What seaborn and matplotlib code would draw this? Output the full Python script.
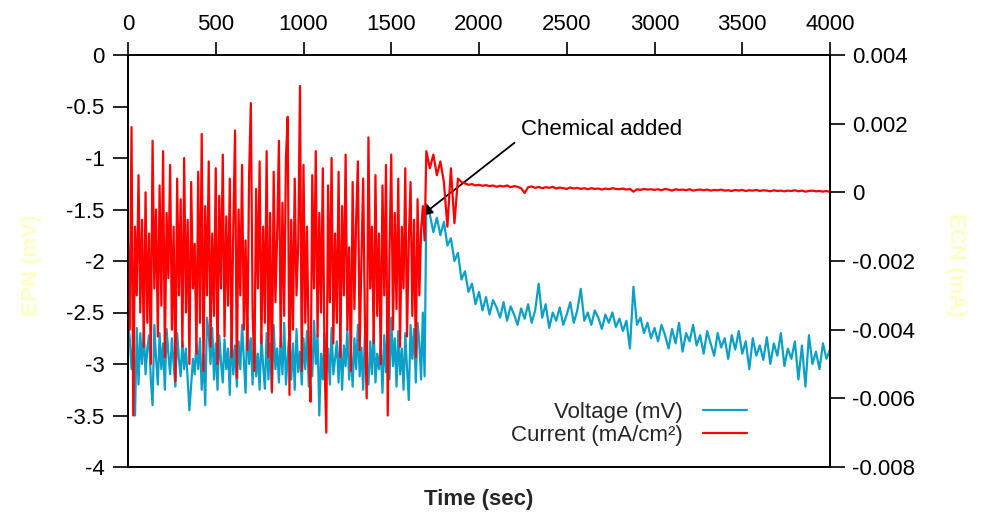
import numpy as np
import pandas as pd
import matplotlib
matplotlib.use("Agg")
import matplotlib.pyplot as plt
from matplotlib.lines import Line2D
from matplotlib.ticker import FuncFormatter
import seaborn as sns

# ---------------- data ----------------
# Voltage (mV), every 10 s from 0 to 1690 s (before the chemical was added)
volt_pre = [
    -2.60, -2.75, -3.05, -2.80, -3.50, -2.65, -3.20, -2.70, -3.00, -2.68,
    -3.10, -2.85, -2.72, -3.15, -3.40, -2.62, -2.95, -3.20, -2.70, -3.05,
    -2.80, -3.25, -2.66, -2.90, -3.10, -2.75, -3.00, -3.22, -2.70, -2.95,
    -3.12, -2.78, -3.05, -2.85, -3.15, -3.45, -3.20, -2.95, -3.10, -2.80,
    -3.05, -2.75, -3.25, -2.90, -3.40, -2.55, -2.70, -3.00, -2.65, -3.15,
    -2.80, -3.25, -2.72, -2.98, -3.18, -2.76, -3.05, -2.85, -3.30, -2.68,
    -3.10, -2.82, -3.22, -2.78, -3.05, -2.62, -2.95, -3.28, -2.55, -3.00,
    -2.75, -3.20, -2.68, -3.12, -2.90, -3.25, -2.72, -3.02, -3.24, -2.70,
    -3.15, -2.80, -3.28, -2.62, -3.05, -2.85, -3.18, -2.74, -3.10, -2.60,
    -3.20, -2.92, -2.70, -3.15, -2.80, -3.25, -2.66, -3.08, -2.88, -3.20,
    -2.75, -3.05, -2.68, -3.22, -2.82, -3.12, -2.58, -3.00, -2.72, -3.50,
    -2.90, -3.15, -2.70, -3.05, -2.85, -3.20, -2.65, -3.10, -2.95, -2.78,
    -3.18, -2.72, -3.25, -2.82, -3.02, -2.66, -3.15, -2.88, -3.22, -2.75,
    -3.05, -2.62, -3.12, -2.84, -3.25, -2.70, -3.00, -3.20, -2.78, -3.10,
    -2.68, -3.18, -2.90, -3.05, -2.80, -3.28, -2.72, -3.08, -2.60, -3.15,
    -2.55, -3.02, -2.75, -3.22, -2.68, -3.10, -2.85, -3.25, -2.70, -3.05,
    -3.35, -2.62, -2.95, -2.66, -3.18, -2.60, -2.80, -3.15, -2.50, -3.12,
]
# Voltage (mV), every 20 s from 1700 to 4000 s (after the chemical was added)
volt_post = [
    -1.45, -1.55, -1.72, -1.58, -1.75, -1.62, -1.85, -1.78, -2.00, -1.92,
    -2.18, -2.10, -2.30, -2.22, -2.42, -2.30, -2.48, -2.35, -2.52, -2.38,
    -2.45, -2.55, -2.40, -2.58, -2.44, -2.52, -2.62, -2.46, -2.56, -2.42,
    -2.60, -2.48, -2.22, -2.55, -2.42, -2.65, -2.50, -2.58, -2.45, -2.62,
    -2.52, -2.40, -2.60, -2.48, -2.27, -2.58, -2.50, -2.62, -2.48, -2.55,
    -2.66, -2.52, -2.60, -2.50, -2.64, -2.56, -2.68, -2.58, -2.85, -2.25,
    -2.62, -2.55, -2.70, -2.60, -2.75, -2.65, -2.78, -2.62, -2.72, -2.85,
    -2.66, -2.80, -2.60, -2.88, -2.70, -2.78, -2.62, -2.82, -2.72, -2.90,
    -2.68, -2.80, -2.92, -2.70, -2.84, -2.75, -2.95, -2.72, -2.86, -2.68,
    -2.90, -2.78, -3.05, -2.75, -2.92, -2.82, -2.96, -2.74, -3.00, -2.80,
    -2.92, -2.70, -3.02, -2.85, -2.95, -2.78, -3.15, -2.82, -3.22, -2.72,
    -3.00, -2.88, -3.05, -2.80, -2.95, -2.86,
]
# Current (mA/cm2), every 10 s from 0 to 1690 s
cur_pre = [
    -0.0015, -0.0040, 0.0019, -0.0065, -0.0010, -0.0030, 0.0005, -0.0035, -0.0008, -0.0045,
    0.0000, -0.0038, -0.0012, -0.0050, 0.0015, -0.0028, -0.0005, -0.0042, 0.0002, -0.0033,
    0.0012, -0.0048, -0.0006, -0.0025, 0.0008, -0.0040, -0.0010, -0.0055, 0.0004, -0.0030,
    -0.0002, -0.0045, 0.0010, -0.0035, -0.0008, -0.0050, 0.0003, -0.0028, -0.0015, -0.0047,
    0.0006, -0.0038, 0.0017, -0.0052, -0.0004, -0.0030, 0.0009, -0.0045, -0.0012, -0.0036,
    0.0007, -0.0050, -0.0001, -0.0028, 0.0011, -0.0042, -0.0007, -0.0033, 0.0004, -0.0048,
    -0.0010, 0.0018, -0.0054, -0.0005, -0.0030, 0.0008, -0.0040, -0.0014, -0.0046, 0.0005,
    0.0026, -0.0035, -0.0052, 0.0001, -0.0028, 0.0009, -0.0044, -0.0010, -0.0038, 0.0012,
    -0.0048, -0.0006, -0.0058, 0.0006, -0.0032, -0.0012, 0.0015, -0.0045, -0.0003, -0.0036,
    0.0010, 0.0022, -0.0059, -0.0008, -0.0040, 0.0004, -0.0030, -0.0015, 0.0031, -0.0052,
    0.0008, -0.0038, -0.0010, -0.0046, -0.0061, 0.0005, -0.0028, 0.0012, -0.0042, -0.0006,
    -0.0035, 0.0007, -0.0050, -0.0070, 0.0002, -0.0032, 0.0010, -0.0044, -0.0012, -0.0038,
    0.0006, -0.0048, -0.0004, -0.0030, 0.0011, -0.0040, -0.0016, -0.0052, 0.0003, -0.0034,
    -0.0008, 0.0009, -0.0046, -0.0020, 0.0004, -0.0038, -0.0060, 0.0016, -0.0028, -0.0010,
    -0.0044, 0.0005, -0.0036, -0.0012, -0.0050, 0.0002, -0.0030, 0.0008, -0.0065, -0.0018,
    0.0011, -0.0040, -0.0006, -0.0034, 0.0004, -0.0045, -0.0010, -0.0028, 0.0007, -0.0042,
    -0.0014, 0.0003, -0.0036, -0.0008, -0.0048, -0.0002, -0.0030, -0.0011, -0.0004, -0.0014,
]
# Current (mA/cm2), every 20 s from 1700 to 4000 s
cur_post = [
    0.0012, 0.0007, 0.0011, 0.0005, 0.0009, 0.0003, -0.0010, 0.0007, -0.0009, 0.0004,
    0.00030, 0.00026, 0.00022, 0.00024, 0.00020, 0.00022, 0.00019, 0.00021, 0.00018, 0.00020,
    0.00016, 0.00019, 0.00017, 0.00020, 0.00015, 0.00018, 0.00016, 0.00012, -0.00002, 0.00015,
    0.00017, 0.00013, 0.00016, 0.00012, 0.00015, 0.00013, 0.00016, 0.00011, 0.00014, 0.00012,
    0.00010, 0.00014, 0.00011, 0.00013, 0.00010, 0.00012, 0.00009, 0.00012, 0.00010, 0.00011,
    0.00008, 0.00011, 0.00009, 0.00012, 0.00010, 0.00009, 0.00011, 0.00008, 0.00010, 0.00002,
    0.00009, 0.00007, 0.00010, 0.00008, 0.00009, 0.00007, 0.00009, 0.00006, 0.00010, 0.00008,
    0.00005, 0.00009, 0.00007, 0.00008, 0.00006, 0.00009, 0.00005, 0.00007, 0.00008, 0.00006,
    0.00008, 0.00005, 0.00007, 0.00006, 0.00008, 0.00005, 0.00006, 0.00004, 0.00007, 0.00005,
    0.00007, 0.00004, 0.00006, 0.00005, 0.00007, 0.00004, 0.00006, 0.00005, 0.00003, 0.00006,
    0.00004, 0.00005, 0.00003, 0.00005, 0.00004, 0.00006, 0.00003, 0.00005, 0.00002, 0.00004,
    0.00005, 0.00003, 0.00004, 0.00002, 0.00004, 0.00001,
]

x_ticks = [0, 500, 1000, 1500, 2000, 2500, 3000, 3500, 4000]
left_ticks = [0, -0.5, -1, -1.5, -2, -2.5, -3, -3.5, -4]
right_ticks = [0.004, 0.002, 0, -0.002, -0.004, -0.006, -0.008]

legend_labels = ["Voltage (mV)", "Current (mA/cm\u00b2)"]
annot_text = "Chemical added"
annot_xy = (1672, -1.56)
annot_text_xy = (2240, -0.72)

# ---------------- build tables ----------------
t_pre = np.linspace(0, 1690, len(volt_pre))
t_post = np.linspace(1700, 4000, len(volt_post))
volt_df = pd.DataFrame({"time": np.concatenate([t_pre, t_post]),
                        "value": volt_pre + volt_post})
tc_pre = np.linspace(0, 1690, len(cur_pre))
tc_post = np.linspace(1700, 4000, len(cur_post))
cur_df = pd.DataFrame({"time": np.concatenate([tc_pre, tc_post]),
                       "value": cur_pre + cur_post})

# ---------------- style ----------------
sns.set_theme(style="white")
plt.rcParams["font.family"] = ["Liberation Sans", "DejaVu Sans"]
plt.rcParams["axes.unicode_minus"] = False

BLUE = "#0ca0c8"
RED = "#ff0000"
PALE = "#ffffc4"
FS = 16

fig = plt.figure(figsize=(9.81, 5.13), dpi=100)
ax = fig.add_axes([128 / 981, 1 - 467 / 513, (830 - 128) / 981, (467 - 55) / 513])
ax2 = ax.twinx()

sns.lineplot(data=volt_df, x="time", y="value", ax=ax, color=BLUE, lw=1.6,
             estimator=None, sort=False, legend=False)
sns.lineplot(data=cur_df, x="time", y="value", ax=ax2, color=RED, lw=1.6,
             estimator=None, sort=False, legend=False)

ax.set_xlim(0, 4000)
ax.set_ylim(-4, 0)
ax2.set_ylim(-0.008, 0.004)

fmt = FuncFormatter(lambda v, p: "%g" % v)
ax.set_xticks(x_ticks)
ax.set_yticks(left_ticks)
ax2.set_yticks(right_ticks)
ax.yaxis.set_major_formatter(fmt)
ax2.yaxis.set_major_formatter(fmt)

ax.xaxis.tick_top()
ax.xaxis.set_label_position("bottom")
ax.tick_params(axis="x", which="both", top=True, bottom=False, direction="out",
               length=9.5, width=1.2, pad=5, labelsize=FS, colors="black")
ax.tick_params(axis="y", direction="out", left=True, length=11, width=1.2,
               pad=6, labelsize=FS, colors="black")
ax2.tick_params(axis="y", direction="out", right=True, length=11, width=1.2,
                pad=5, labelsize=FS, colors="black")
for a in (ax, ax2):
    for s in a.spines.values():
        s.set_color("black")
        s.set_linewidth(1.2)
        s.set_visible(True)

ax.set_xlabel("Time (sec)", fontsize=FS, fontweight="bold", labelpad=16)
ax.set_ylabel("EPN (mV)", fontsize=FS, color=PALE, fontweight="bold",
              va="center")
ax.yaxis.set_label_coords(-0.138, 0.49)
ax2.set_ylabel("ECN (mA)", fontsize=FS, color=PALE, fontweight="bold",
               rotation=-90, va="center")
ax2.yaxis.set_label_coords(1.179, 0.49)

ax.annotate(annot_text, xy=annot_xy, xytext=annot_text_xy, fontsize=FS,
            ha="left", va="center", color="black",
            arrowprops=dict(arrowstyle="-|>", color="black", lw=1.3,
                            mutation_scale=16, shrinkA=3, shrinkB=0,
                            relpos=(0.0, 0.1)),
            annotation_clip=False, zorder=10)

handles = [Line2D([], [], color=BLUE, lw=1.6), Line2D([], [], color=RED, lw=1.6)]
leg = ax2.legend(handles, legend_labels, loc="lower right",
                 bbox_to_anchor=(747 / 981, 1 - 446 / 513),
                 bbox_transform=fig.transFigure, frameon=False,
                 markerfirst=False, fontsize=FS, handlelength=2.0,
                 handletextpad=0.9, labelspacing=0.08, borderpad=0,
                 borderaxespad=0)
for txt in leg.get_texts():
    txt.set_ha("right")

fig.savefig("out.png", dpi=100)
